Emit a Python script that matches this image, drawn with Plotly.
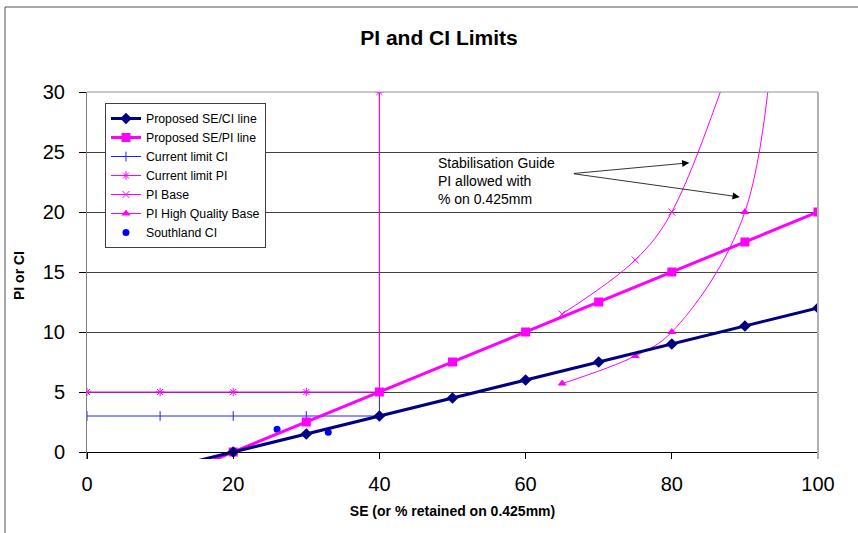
import plotly.graph_objects as go

# ---- data ----
se_x = [10, 20, 30, 40, 50, 60, 70, 80, 90, 100]
ci_proposed = [-1.5, 0, 1.5, 3, 4.5, 6, 7.5, 9, 10.5, 12]
pi_proposed = [-2.5, 0, 2.5, 5, 7.5, 10, 12.5, 15, 17.5, 20]

limit_x = [0, 10, 20, 30, 40, 40]
limit_ci = [3, 3, 3, 3, 3, 30]
limit_pi = [5, 5, 5, 5, 5, 30]

pi_base_x = [65, 75, 80, 90]
pi_base_y = [11.5, 16, 20, 36]

pi_hq_x = [65, 75, 80, 90, 95]
pi_hq_y = [5.7, 8, 10, 20, 46]

southland_x = [26, 33]
southland_ci = [1.9, 1.65]

x_ticks = [0, 20, 40, 60, 80, 100]
y_ticks = [0, 5, 10, 15, 20, 25, 30]

NAVY = "#000080"
MAG = "#FF00FF"
BLUE = "#2020FF"

Y_MIN, Y_MAX = -0.583, 30

fig = go.Figure()

fig.add_trace(go.Scatter(x=limit_x, y=limit_ci, name="Current limit CI", mode="lines+markers",
                         line=dict(color=BLUE, width=1),
                         marker=dict(symbol="line-ns-open", size=7, color=BLUE, line=dict(color=BLUE, width=1)),
                         legendrank=3))
fig.add_trace(go.Scatter(x=limit_x, y=limit_pi, name="Current limit PI", mode="lines+markers",
                         line=dict(color=MAG, width=1),
                         marker=dict(symbol="asterisk-open", size=7, color=MAG, line=dict(color=MAG, width=1)),
                         legendrank=4))
fig.add_trace(go.Scatter(x=pi_base_x, y=pi_base_y, name="PI Base", mode="lines+markers",
                         line=dict(color=MAG, width=1, shape="spline", smoothing=1),
                         marker=dict(symbol="x-thin-open", size=7, color=MAG, line=dict(color=MAG, width=1)),
                         legendrank=5))
fig.add_trace(go.Scatter(x=pi_hq_x, y=pi_hq_y, name="PI High Quality Base", mode="lines+markers",
                         line=dict(color=MAG, width=1, shape="spline", smoothing=1),
                         marker=dict(symbol="triangle-up", size=8, color=MAG),
                         legendrank=6))
fig.add_trace(go.Scatter(x=southland_x, y=southland_ci, name="Southland CI", mode="markers",
                         marker=dict(symbol="circle", size=7, color="#0000FF"),
                         legendrank=7))
fig.add_trace(go.Scatter(x=se_x, y=pi_proposed, name="Proposed SE/PI line", mode="lines+markers",
                         line=dict(color=MAG, width=3),
                         marker=dict(symbol="square", size=9, color=MAG),
                         legendrank=2))
fig.add_trace(go.Scatter(x=se_x, y=ci_proposed, name="Proposed SE/CI line", mode="lines+markers",
                         line=dict(color=NAVY, width=3),
                         marker=dict(symbol="diamond", size=9, color=NAVY),
                         legendrank=1))

x_axis_pos = (0 - Y_MIN) / (Y_MAX - Y_MIN)

fig.update_layout(
    width=858, height=533,
    margin=dict(l=87, r=40, t=92, b=74),
    paper_bgcolor="white", plot_bgcolor="white",
    font=dict(family="Liberation Sans, Arial, sans-serif", color="black"),
    title=dict(text="<b>PI and CI Limits</b>", x=0.5117, xanchor="center", y=0.93, yanchor="middle",
               font=dict(size=21, family="Liberation Sans, Arial", color="black")),
    showlegend=True,
    legend=dict(x=0.0246, y=0.97, xanchor="left", yanchor="top",
                bgcolor="white", bordercolor="#404040", borderwidth=1,
                font=dict(size=12.3, color="black"), itemwidth=30,
                tracegroupgap=0),
    xaxis=dict(range=[0, 100], tickvals=x_ticks, ticktext=[str(v) for v in x_ticks],
               showgrid=False, zeroline=False, showline=True, linecolor="black", linewidth=1,
               ticks="outside", ticklen=6, tickcolor="black",
               anchor="free", position=x_axis_pos,
               tickfont=dict(size=20, color="black"), ticklabelstandoff=8,
               title=dict(text="<b>SE (or % retained on 0.425mm)</b>", font=dict(size=14), standoff=12)),
    yaxis=dict(range=[Y_MIN, Y_MAX], tickvals=y_ticks, ticktext=[str(v) for v in y_ticks],
               showgrid=True, gridcolor="#404040", gridwidth=1, zeroline=False,
               showline=True, linecolor="#808080", linewidth=1,
               ticks="outside", ticklen=7, tickcolor="black",
               tickfont=dict(size=20, color="black"), ticklabelstandoff=10,
               title=dict(text="<b>PI or CI</b>", font=dict(size=14), standoff=14)),
)

# plot-area border (top and right, grey) and the outer chart frame
fig.add_shape(type="line", xref="paper", yref="paper", x0=0, x1=1, y0=1, y1=1,
              line=dict(color="#909090", width=1), layer="above")
fig.add_shape(type="line", xref="paper", yref="paper", x0=1, x1=1, y0=0, y1=1,
              line=dict(color="#b0b0b0", width=2), layer="above")
fig.add_shape(type="rect", xref="paper", yref="paper",
              x0=(5 - 87) / 731, x1=(880 - 87) / 731, y0=-(560 - 459) / 367, y1=1 + (92 - 7) / 367,
              line=dict(color="#505050", width=1), layer="above")

# annotation text and arrows
fig.add_annotation(x=47.8, y=24.95, xref="x", yref="y", xanchor="left", yanchor="top", align="left",
                   text="Stabilisation Guide<br>PI allowed with<br>% on 0.425mm", showarrow=False,
                   font=dict(size=14, color="black"))
for hx, hy in [(82.4, 24.1), (89.3, 21.25)]:
    fig.add_annotation(x=hx, y=hy, ax=66.4, ay=23.2, xref="x", yref="y", axref="x", ayref="y",
                       text="", showarrow=True, arrowhead=2, arrowsize=1.8, arrowwidth=0.8,
                       arrowcolor="black")

fig.write_html("out.html")
